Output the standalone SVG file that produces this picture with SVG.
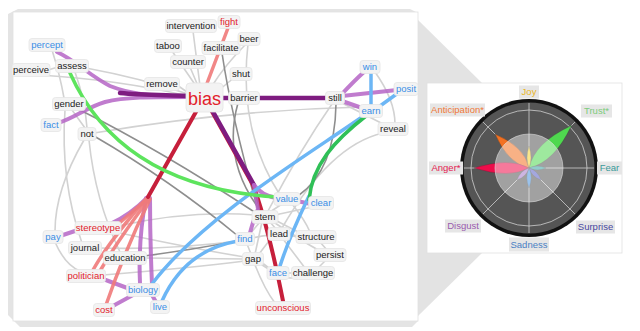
<svg xmlns="http://www.w3.org/2000/svg" width="640" height="331" viewBox="0 0 640 331">
<style>
.nb{fill:#f3f3f3;stroke:#e4e4e4;stroke-width:0.8}
.t{font-family:"Liberation Sans",Arial,sans-serif;font-size:9.5px;text-anchor:middle}
.k{fill:#222}
.b{fill:#3a8ee6}
.r{fill:#e2222b}
.e{fill:none;stroke-linecap:round}
.gl{stroke:#d2d2d2;stroke-width:1.6}
.gd{stroke:#8e8e8e;stroke-width:1.6}
.pl{stroke:#b565c6;stroke-width:4;stroke-opacity:0.85}
.pd{stroke:#7e1c80;stroke-width:4.5}
.cr{stroke:#c61f3b;stroke-width:4}
.sa{stroke:#f07a7a;stroke-width:3.5;stroke-opacity:0.9}
.gr{stroke:#5de45d;stroke-width:3.5}
.gk{stroke:#2fc057;stroke-width:3.5}
.bl{stroke:#6cb6f5;stroke-width:3.5}
.lb{fill:#e6e6e6}
.rt{font-family:"Liberation Sans",Arial,sans-serif;font-size:9.5px;text-anchor:middle}
.sp{stroke:#cfcfcf;stroke-width:0.8}
</style>
<rect width="640" height="331" fill="#ffffff"/>
<!-- panel frames -->
<polygon points="18,9 410,9 418,13 418,321 412,327 20,327 8,315 8,14" fill="#e4e4e4"/>
<polygon points="418,20 482,83 482,253 418,316" fill="#e3e3e3"/>
<rect x="13" y="12" width="405" height="309" fill="#ffffff" stroke="#e0e0e0" stroke-width="0.8"/>
<rect x="427" y="83" width="195" height="170" fill="#ffffff" stroke="#e0e0e0" stroke-width="0.8"/>

<g id="connectors">
<!-- light gray -->
<path class="e gl" d="M48,70 L58,67"/>
<path class="e gl" d="M40,75 Q120,80 188,96"/>
<path class="e gl" d="M86,68 Q140,78 188,94"/>
<path class="e gl" d="M52,50 Q60,75 64,98"/>
<path class="e gl" d="M75,72 Q85,100 87,128"/>
<path class="e gl" d="M72,110 L85,128"/>
<path class="e gl" d="M94,133 Q230,110 362,107"/>
<path class="e gl" d="M193,31 L200,86"/>
<path class="e gl" d="M172,51 Q185,70 196,86"/>
<path class="e gl" d="M190,67 L198,86"/>
<path class="e gl" d="M246,44 Q225,65 212,86"/>
<path class="e gl" d="M235,77 L219,90"/>
<path class="e gl" d="M177,85 L187,92"/>
<path class="e gl" d="M248,44 Q238,130 280,195"/>
<path class="e gl" d="M340,102 L385,125"/>
<path class="e gl" d="M375,72 Q395,100 395,124"/>
<path class="e gl" d="M332,104 Q300,150 268,211"/>
<path class="e gl" d="M383,133 Q330,145 282,228"/>
<path class="e gl" d="M65,110 Q60,180 82,243"/>
<path class="e gl" d="M84,140 Q55,190 55,231"/>
<path class="e gl" d="M89,140 Q95,200 120,252"/>
<path class="e gl" d="M55,242 Q65,265 80,271"/>
<path class="e gl" d="M118,226 Q190,210 255,215"/>
<path class="e gl" d="M99,248 Q170,250 238,241"/>
<path class="e gl" d="M144,258 L245,259"/>
<path class="e gl" d="M115,232 Q200,250 245,257"/>
<path class="e gl" d="M103,275 Q190,268 245,261"/>
<path class="e gl" d="M270,222 L276,229"/>
<path class="e gl" d="M275,220 L300,233"/>
<path class="e gl" d="M262,222 L255,254"/>
<path class="e gl" d="M272,221 Q300,240 320,251"/>
<path class="e gl" d="M287,235 L298,237"/>
<path class="e gl" d="M272,237 L259,254"/>
<path class="e gl" d="M247,244 L251,254"/>
<path class="e gl" d="M261,262 Q290,285 296,275"/>
<path class="e gl" d="M259,263 L270,270"/>
<path class="e gl" d="M283,239 L305,268"/>
<path class="e gl" d="M320,242 L327,250"/>
<path class="e gl" d="M326,260 L318,268"/>
<path class="e gl" d="M287,273 L294,273"/>
<path class="e gl" d="M252,238 Q280,232 298,236"/>
<path class="e gl" d="M255,265 Q265,290 275,303"/>
<path class="e gl" d="M282,204 L270,212"/>
<path class="e gl" d="M312,207 L275,215"/>
<path class="e gl" d="M249,235 L260,222"/>
<path class="e gl" d="M292,204 Q305,220 310,232"/>
<!-- dark gray -->
<path class="e gd" d="M222,53 Q232,120 258,210"/>
<path class="e gd" d="M238,103 Q222,160 260,210"/>
<path class="e gd" d="M80,110 Q160,150 256,213"/>
<path class="e gd" d="M94,136 Q170,180 238,236"/>
<path class="e gd" d="M336,104 Q335,170 298,196"/>
<path class="e gd" d="M238,241 Q190,250 144,256"/>
<!-- colored -->
<path class="e sa" d="M206,86 L228,28" stroke-width="4"/>
<path class="e pl" d="M188,97 C150,96 130,94 110,86 C90,76 75,60 57,52"/>
<path class="e pl" d="M188,97 C150,97 125,97 105,102 C85,108 75,118 58,123"/>
<path class="e pd" d="M188,96 C160,95 140,95 120,93"/>
<path class="e pd" d="M221,98 L330,98"/>
<path class="e pl" d="M340,96 Q355,80 364,72"/>
<path class="e pl" d="M342,96 L397,90"/>
<path class="e pl" d="M342,101 L362,108"/>
<path class="e cr" d="M210,108 L253,185 Q268,225 283,301"/>
<path class="e pd" d="M212,110 L254,185"/>
<path class="e pl" d="M254,185 Q262,196 277,198"/>
<path class="e pl" d="M254,185 L258,209"/>
<path class="e pl" d="M297,201 L311,204"/>
<path class="e pl" d="M257,211 Q252,225 250,233"/>
<path class="e pl" d="M148,197 Q130,215 112,223"/>
<path class="e pl" d="M60,236 L78,230"/>
<path class="e pl" d="M146,198 Q138,240 140,283"/>
<path class="e pl" d="M150,198 Q150,240 152,284"/>
<path class="e pl" d="M103,279 L130,289"/>
<path class="e pl" d="M111,307 L133,295"/>
<path class="e pl" d="M152,295 L156,302"/>
<path class="e sa" d="M148,198 L116,226"/>
<path class="e sa" d="M147,198 Q110,240 93,270"/>
<path class="e sa" d="M149,199 Q118,240 100,271"/>
<path class="e sa" d="M150,199 Q125,250 106,305"/>
<path class="e cr" d="M197,110 L148,197"/>
<path class="e bl" d="M371,73 L371,104"/>
<path class="e bl" d="M398,93 L380,106"/>
<path class="e bl" d="M362,117 C300,160 200,220 152,284"/>
<path class="e bl" d="M238,241 Q185,250 162,301"/>
<path class="e bl" d="M280,266 C290,235 300,215 309,196"/>
<path class="e gr" d="M70,73 C100,140 160,190 277,197"/>
<path class="e gk" d="M366,116 C335,140 312,165 309,200"/>
</g>

<!-- nodes -->
<g id="n-percept"><rect class="nb" x="29" y="38.5" width="36" height="13" rx="3"/><text class="t b" x="47" y="48.3">percept</text></g>
<g id="n-perceive"><rect class="nb" x="12" y="63.5" width="38" height="13" rx="3"/><text class="t k" x="31" y="73.3">perceive</text></g>
<g id="n-assess"><rect class="nb" x="55.5" y="59.5" width="33" height="13" rx="3"/><text class="t k" x="72" y="69.3">assess</text></g>
<g id="n-intervention"><rect class="nb" x="165.5" y="19.5" width="51" height="13" rx="3"/><text class="t k" x="191" y="29.3">intervention</text></g>
<g id="n-taboo"><rect class="nb" x="154.5" y="39.5" width="27" height="13" rx="3"/><text class="t k" x="168" y="49.3">taboo</text></g>
<g id="n-counter"><rect class="nb" x="170.5" y="55.5" width="35" height="13" rx="3"/><text class="t k" x="188" y="65.3">counter</text></g>
<g id="n-facilitate"><rect class="nb" x="202" y="41.5" width="38" height="13" rx="3"/><text class="t k" x="221" y="51.3">facilitate</text></g>
<g id="n-fight"><rect class="nb" x="218" y="15.5" width="22" height="13" rx="3"/><text class="t r" x="229" y="25.3">fight</text></g>
<g id="n-beer"><rect class="nb" x="238" y="32.5" width="22" height="13" rx="3"/><text class="t k" x="249" y="42.3">beer</text></g>
<g id="n-shut"><rect class="nb" x="230" y="67.5" width="22" height="13" rx="3"/><text class="t k" x="241" y="77.3">shut</text></g>
<g id="n-remove"><rect class="nb" x="144.5" y="77.5" width="35" height="13" rx="3"/><text class="t k" x="162" y="87.3">remove</text></g>
<g id="n-barrier"><rect class="nb" x="228.5" y="91.5" width="31" height="13" rx="3"/><text class="t k" x="244" y="101.3">barrier</text></g>
<g id="n-bias"><rect class="nb" x="186" y="83" width="37" height="29" rx="4"/><text class="t r" x="204.5" y="104.5" style="font-size:18px">bias</text></g>
<g id="n-gender"><rect class="nb" x="52.5" y="97.5" width="33" height="13" rx="3"/><text class="t k" x="69" y="107.3">gender</text></g>
<g id="n-fact"><rect class="nb" x="41" y="118.5" width="20" height="13" rx="3"/><text class="t b" x="51" y="128.3">fact</text></g>
<g id="n-not"><rect class="nb" x="78" y="127.5" width="18" height="13" rx="3"/><text class="t k" x="87" y="137.3">not</text></g>
<g id="n-win"><rect class="nb" x="360" y="60.5" width="20" height="13" rx="3"/><text class="t b" x="370" y="70.3">win</text></g>
<g id="n-posit"><rect class="nb" x="394" y="82.5" width="24" height="13" rx="3"/><text class="t b" x="406" y="92.3">posit</text></g>
<g id="n-still"><rect class="nb" x="325.5" y="91.5" width="19" height="13" rx="3"/><text class="t k" x="335" y="101.3">still</text></g>
<g id="n-earn"><rect class="nb" x="359.5" y="104.5" width="23" height="13" rx="3"/><text class="t b" x="371" y="114.3">earn</text></g>
<g id="n-reveal"><rect class="nb" x="378" y="122.5" width="30" height="13" rx="3"/><text class="t k" x="393" y="132.3">reveal</text></g>
<g id="n-pay"><rect class="nb" x="43" y="230.5" width="20" height="13" rx="3"/><text class="t b" x="53" y="240.3">pay</text></g>
<g id="n-stereotype"><rect class="nb" x="75" y="221.5" width="46" height="13" rx="3"/><text class="t r" x="98" y="231.3">stereotype</text></g>
<g id="n-journal"><rect class="nb" x="68.5" y="241.5" width="33" height="13" rx="3"/><text class="t k" x="85" y="251.3">journal</text></g>
<g id="n-education"><rect class="nb" x="103.5" y="251.5" width="43" height="13" rx="3"/><text class="t k" x="125" y="261.3">education</text></g>
<g id="n-politician"><rect class="nb" x="66.5" y="269.5" width="39" height="13" rx="3"/><text class="t r" x="86" y="279.3">politician</text></g>
<g id="n-biology"><rect class="nb" x="126.5" y="283.5" width="33" height="13" rx="3"/><text class="t b" x="143" y="293.3">biology</text></g>
<g id="n-cost"><rect class="nb" x="93.5" y="303.5" width="21" height="13" rx="3"/><text class="t r" x="104" y="313.3">cost</text></g>
<g id="n-live"><rect class="nb" x="150.5" y="300.5" width="19" height="13" rx="3"/><text class="t b" x="160" y="310.3">live</text></g>
<g id="n-value"><rect class="nb" x="274" y="192.5" width="26" height="13" rx="3"/><text class="t b" x="287" y="202.3">value</text></g>
<g id="n-clear"><rect class="nb" x="308.5" y="196.5" width="25" height="13" rx="3"/><text class="t b" x="321" y="206.3">clear</text></g>
<g id="n-stem"><rect class="nb" x="252" y="210.5" width="26" height="13" rx="3"/><text class="t k" x="265" y="220.3">stem</text></g>
<g id="n-lead"><rect class="nb" x="268" y="227.5" width="22" height="13" rx="3"/><text class="t k" x="279" y="237.3">lead</text></g>
<g id="n-structure"><rect class="nb" x="296" y="230.5" width="40" height="13" rx="3"/><text class="t k" x="316" y="240.3">structure</text></g>
<g id="n-find"><rect class="nb" x="235.5" y="232.5" width="19" height="13" rx="3"/><text class="t b" x="245" y="242.3">find</text></g>
<g id="n-persist"><rect class="nb" x="314" y="248.5" width="32" height="13" rx="3"/><text class="t k" x="330" y="258.3">persist</text></g>
<g id="n-gap"><rect class="nb" x="242.5" y="252.5" width="21" height="13" rx="3"/><text class="t k" x="253" y="262.3">gap</text></g>
<g id="n-face"><rect class="nb" x="267" y="266.5" width="22" height="13" rx="3"/><text class="t b" x="278" y="276.3">face</text></g>
<g id="n-challenge"><rect class="nb" x="291.5" y="266.5" width="43" height="13" rx="3"/><text class="t k" x="313" y="276.3">challenge</text></g>
<g id="n-unconscious"><rect class="nb" x="255.5" y="301.5" width="55" height="13" rx="3"/><text class="t r" x="283" y="311.3">unconscious</text></g>

<!-- radar -->
<g id="radar">
<circle cx="529" cy="168" r="69" fill="#111111"/>
<circle cx="529" cy="168" r="65.5" fill="#555555"/>
<circle cx="529" cy="168" r="58" fill="none" stroke="#cfcfcf" stroke-width="0.8"/>
<g transform="translate(529,168)">
<line class="sp" x1="0" y1="-65" x2="0" y2="65"/>
<line class="sp" x1="-65" y1="0" x2="65" y2="0"/>
<line class="sp" x1="-46" y1="-46" x2="46" y2="46"/>
<line class="sp" x1="46" y1="-46" x2="-46" y2="46"/>
<g stroke="#333" stroke-width="0.5" stroke-opacity="0.6">
<path d="M0,0 Q14,-22 0,-60 Q-14,-22 0,0Z" fill="#4fd84f" transform="rotate(45)"/>
<path d="M0,0 Q12,-18 0,-48 Q-12,-18 0,0Z" fill="#f37121" transform="rotate(-45)"/>
<path d="M0,0 Q11,-20 0,-55 Q-11,-20 0,0Z" fill="#ee0c4a" transform="rotate(-90)"/>
<path d="M0,0 Q4,-10 0,-22 Q-4,-10 0,0Z" fill="#f2d12c"/>
<path d="M0,0 Q4,-8 0,-17 Q-4,-8 0,0Z" fill="#3aa2a2" transform="rotate(90)"/>
<path d="M0,0 Q4.5,-8 0,-17 Q-4.5,-8 0,0Z" fill="#5a60c4" transform="rotate(135)"/>
<path d="M0,0 Q4.5,-9 0,-20 Q-4.5,-9 0,0Z" fill="#4a92dc" transform="rotate(180)"/>
<path d="M0,0 Q4.5,-8 0,-17 Q-4.5,-8 0,0Z" fill="#a478c8" transform="rotate(225)"/>
</g>
<circle cx="0" cy="0" r="34" fill="#ffffff" fill-opacity="0.45" stroke="#dddddd" stroke-width="0.6"/>
</g>
</g>
<g id="l-joy"><rect class="lb" x="519" y="85.5" width="20" height="13"/><text class="rt" x="529" y="95.3" fill="#e9b524">Joy</text></g>
<g id="l-trust"><rect class="lb" x="581" y="104.5" width="31" height="13"/><text class="rt" x="596.5" y="114.3" fill="#7ccc7c">Trust*</text></g>
<g id="l-fear"><rect class="lb" x="597" y="161.5" width="25" height="13"/><text class="rt" x="609.5" y="171.3" fill="#3a9a9a">Fear</text></g>
<g id="l-surprise"><rect class="lb" x="576" y="220.5" width="39" height="13"/><text class="rt" x="595.5" y="230.3" fill="#4848a0">Surprise</text></g>
<g id="l-sadness"><rect class="lb" x="509" y="237.5" width="40" height="14"/><text class="rt" x="529" y="247.6" fill="#4a80c4">Sadness</text></g>
<g id="l-disgust"><rect class="lb" x="445" y="219.5" width="36" height="13"/><text class="rt" x="463" y="229.3" fill="#9a5aae">Disgust</text></g>
<g id="l-anger"><rect class="lb" x="429" y="161.5" width="34" height="13"/><text class="rt" x="446" y="171.3" fill="#e42050">Anger*</text></g>
<g id="l-anticipation"><rect class="lb" x="430" y="103.5" width="55" height="13"/><text class="rt" x="457.5" y="113.3" fill="#f07838">Anticipation*</text></g>
</svg>
